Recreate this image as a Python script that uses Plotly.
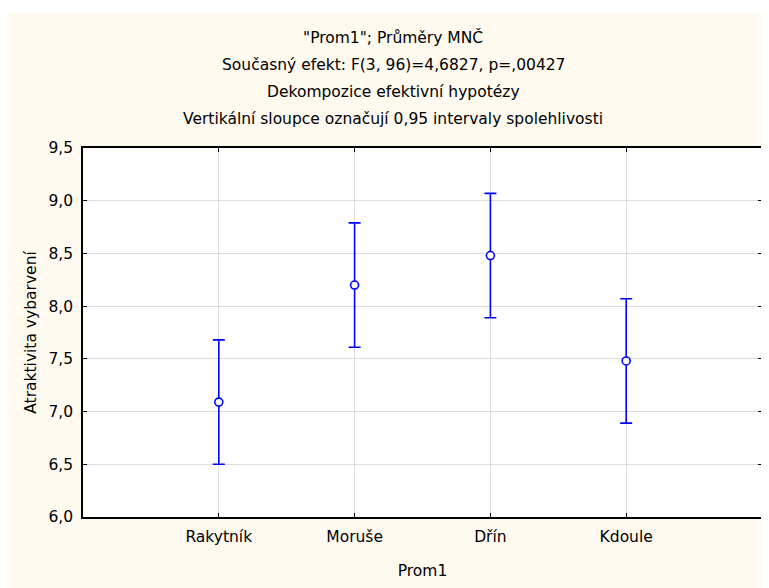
import plotly.graph_objects as go

categories = ["Rakytník", "Moruše", "Dřín", "Kdoule"]
means = [7.09, 8.20, 8.48, 7.48]
lower = [6.50, 7.61, 7.89, 6.89]
upper = [7.68, 8.79, 9.07, 8.07]
y_ticks = [6.0, 6.5, 7.0, 7.5, 8.0, 8.5, 9.0, 9.5]
title_lines = [
    '"Prom1"; Průměry MNČ',
    "Současný efekt: F(3, 96)=4,6827, p=,00427",
    "Dekompozice efektivní hypotézy",
    "Vertikální sloupce označují 0,95 intervaly spolehlivosti",
]

W, H = 769, 588
ML, MR, MT, MB = 75, 15, 140, 79
PW, PH = W - ML - MR, H - MT - MB
FONT = "DejaVu Sans"
FS = 15.5
CREAM = "#FEFAF0"
OFF = 8  # page body margin


def px_x(sx):
    return (sx - OFF - ML) / PW


def px_y(sy):
    return (H - MB - (sy - OFF)) / PH


xpos = list(range(len(categories)))
err_plus = [u - m for u, m in zip(upper, means)]
err_minus = [m - l for m, l in zip(means, lower)]

fig = go.Figure()
fig.add_trace(go.Scatter(
    x=xpos, y=means, mode="markers",
    marker=dict(symbol="circle", size=8, color="white",
                line=dict(color="#0000FF", width=1.6)),
    error_y=dict(type="data", symmetric=False, array=err_plus, arrayminus=err_minus,
                 color="#0000FF", thickness=1.6, width=6),
    showlegend=False, hoverinfo="skip",
))

annotations = []
for line, cy in zip(title_lines, [38, 65, 92, 119]):
    annotations.append(dict(
        text=line, xref="paper", yref="paper", x=px_x(393), y=px_y(cy),
        xanchor="center", yanchor="middle", showarrow=False,
        font=dict(family=FONT, size=FS, color="black"),
    ))

shapes = [
    dict(type="rect", xref="paper", yref="paper", layer="above",
         x0=px_x(0), x1=px_x(W + 20), y0=px_y(13), y1=px_y(0),
         fillcolor="white", line=dict(width=0)),
]

fig.update_layout(
    width=W, height=H,
    margin=dict(l=ML, r=MR, t=MT, b=MB, pad=0),
    paper_bgcolor=CREAM, plot_bgcolor="white",
    separators=", ",
    font=dict(family=FONT, size=FS, color="black"),
    annotations=annotations, shapes=shapes,
    xaxis=dict(
        range=[-1, 4], tickmode="array", tickvals=xpos, ticktext=categories,
        showgrid=True, gridcolor="#DCDCDC", gridwidth=1,
        showline=True, linecolor="black", linewidth=1.5, mirror="ticks",
        ticks="inside", ticklen=4, tickcolor="black", tickwidth=1.2,
        zeroline=False, fixedrange=True, ticklabelstandoff=5,
        title=dict(text="Prom1", standoff=20, font=dict(family=FONT, size=FS)),
    ),
    yaxis=dict(
        range=[6.0, 9.5], tickmode="array", tickvals=y_ticks, tickformat=".1f",
        showgrid=True, gridcolor="#DCDCDC", gridwidth=1,
        showline=True, linecolor="black", linewidth=1.5, mirror="ticks",
        ticks="inside", ticklen=4, tickcolor="black", tickwidth=1.2,
        zeroline=False, fixedrange=True, ticklabelstandoff=5,
        title=dict(text="Atraktivita vybarvení", standoff=8, font=dict(family=FONT, size=FS)),
    ),
)

fig.write_html("out.html")
